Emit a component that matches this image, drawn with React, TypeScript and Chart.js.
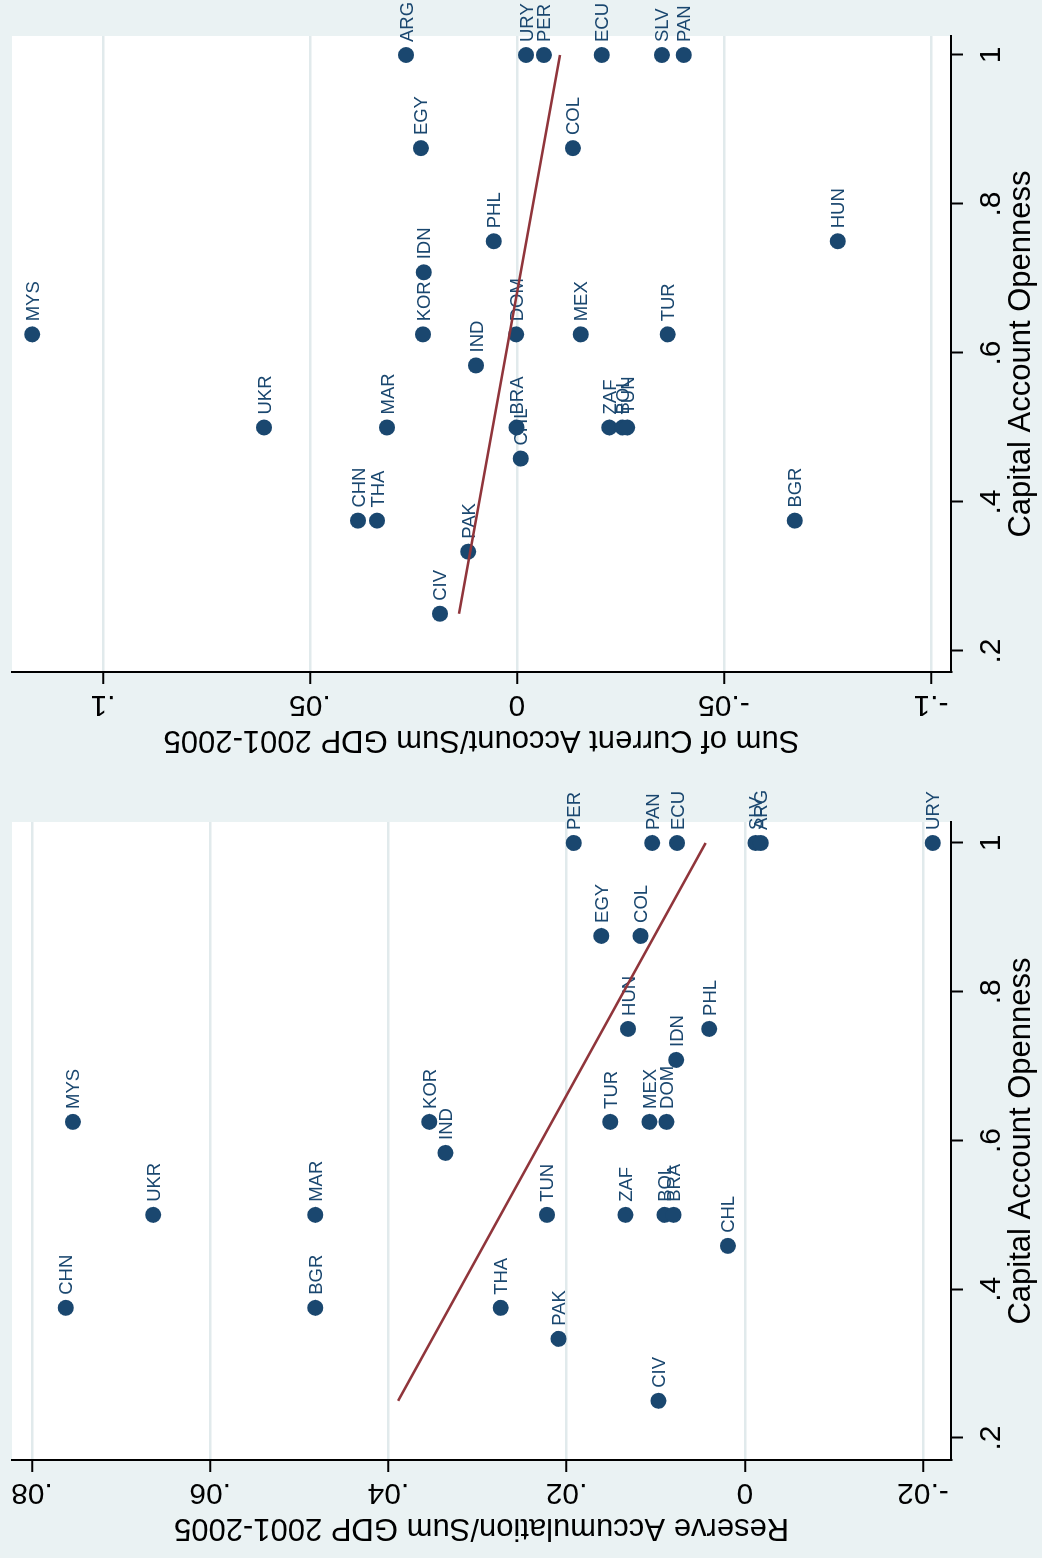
import React, { useEffect, useRef } from "react";
import { Chart, registerables } from "chart.js";

Chart.register(...registerables);

// ---------- Data ----------
const reserveCountries = ["CHN","MYS","UKR","BGR","MAR","KOR","IND","THA","PAK","TUN","PER","EGY","COL","ZAF","TUR","HUN","MEX","DOM","IDN","PHL","BOL","BRA","CHL","CIV","PAN","ECU","SLV","ARG","URY"];
const reserveOpenness = [0.375,0.625,0.5,0.375,0.5,0.625,0.5833,0.375,0.3333,0.5,1,0.875,0.875,0.5,0.625,0.75,0.625,0.625,0.7083,0.75,0.5,0.5,0.4583,0.25,1,1,1,1,1];
const reserveValues = [0.0762,0.0754,0.0664,0.0482,0.0482,0.0354,0.0336,0.0274,0.0209,0.0222,0.0192,0.0161,0.0117,0.0134,0.0151,0.0131,0.0107,0.0088,0.0077,0.0040,0.0090,0.0080,0.0019,0.0097,0.0104,0.0076,-0.0012,-0.0018,-0.0211];
const reserveFitX = [0.25, 1];
const reserveFitY = [0.0389, 0.0044];

const caCountries = ["MYS","UKR","MAR","CHN","THA","ARG","EGY","KOR","IDN","IND","PHL","DOM","PAK","CIV","BRA","CHL","MEX","TUR","ZAF","BOL","TUN","URY","PER","ECU","SLV","PAN","COL","HUN","BGR"];
const caOpenness = [0.625,0.5,0.5,0.375,0.375,1,0.875,0.625,0.7083,0.5833,0.75,0.625,0.3333,0.25,0.5,0.4583,0.625,0.625,0.5,0.5,0.5,1,1,1,1,1,0.875,0.75,0.375];
const caValues = [0.1171,0.0611,0.0314,0.0384,0.0338,0.0268,0.0232,0.0227,0.0225,0.0099,0.0056,0.0002,0.0118,0.0186,0.0001,-0.0009,-0.0154,-0.0364,-0.0223,-0.0255,-0.0266,-0.0022,-0.0065,-0.0205,-0.0350,-0.0403,-0.0135,-0.0775,-0.0671];
const caFitX = [0.25, 1];
const caFitY = [0.0140, -0.0104];

const opennessTicks = [0.2, 0.4, 0.6, 0.8, 1];
const opennessTickLabels = [".2", ".4", ".6", ".8", "1"];
const reserveTicks = [-0.02, 0, 0.02, 0.04, 0.06, 0.08];
const reserveTickLabels = ["-.02", "0", ".02", ".04", ".06", ".08"];
const caTicks = [-0.1, -0.05, 0, 0.05, 0.1];
const caTickLabels = ["-.1", "-.05", "0", ".05", ".1"];

const xTitle = "Capital Account Openness";
const reserveTitle = "Reserve Accumulation/Sum GDP 2001-2005";
const caTitle = "Sum of Current Account/Sum GDP 2001-2005";

// ---------- Styling ----------
const BG = "#EAF2F3";
const GRID = "#E1EAEC";
const NAVY = "#1A476F";
const MAROON = "#90353B";
const FONT = '"Liberation Sans", Arial, sans-serif';

type Panel = {
  countries: string[];
  openness: number[];
  values: number[];
  fitX: number[];
  fitY: number[];
  yTicks: number[];
  yTickLabels: string[];
  yTitle: string;
  xMin: number;
  xMax: number;
  yMin: number;
  yMax: number;
  axisWidth: number;
  padRight: number;
};

const reservePanel: Panel = {
  countries: reserveCountries,
  openness: reserveOpenness,
  values: reserveValues,
  fitX: reserveFitX,
  fitY: reserveFitY,
  yTicks: reserveTicks,
  yTickLabels: reserveTickLabels,
  yTitle: reserveTitle,
  xMin: 0.1704,
  xMax: 1.0282,
  yMin: -0.02314,
  yMax: 0.08224,
  axisWidth: 98,
  padRight: 43,
};

const caPanel: Panel = {
  countries: caCountries,
  openness: caOpenness,
  values: caValues,
  fitX: caFitX,
  fitY: caFitY,
  yTicks: caTicks,
  yTickLabels: caTickLabels,
  yTitle: caTitle,
  xMin: 0.1718,
  xMax: 1.0255,
  yMin: -0.10483,
  yMax: 0.12198,
  axisWidth: 107,
  padRight: 36,
};

function buildConfig(p: Panel): any {
  const bgPlugin = {
    id: "bgPlugin",
    beforeDraw(chart: any) {
      const { ctx, chartArea: a, width, height } = chart;
      ctx.save();
      ctx.fillStyle = BG;
      ctx.fillRect(0, 0, width, height);
      ctx.fillStyle = "#FFFFFF";
      ctx.fillRect(a.left, a.top, a.right - a.left, a.bottom - a.top);
      ctx.restore();
    },
  };

  const labelPlugin = {
    id: "labelPlugin",
    afterDatasetDraw(chart: any, args: any) {
      if (args.index !== 1) return;
      const { ctx } = chart;
      const meta = chart.getDatasetMeta(1);
      ctx.save();
      ctx.font = `18.5px ${FONT}`;
      ctx.fillStyle = NAVY;
      ctx.textAlign = "left";
      ctx.textBaseline = "alphabetic";
      meta.data.forEach((el: any, i: number) => {
        ctx.fillText(p.countries[i], el.x + 13, el.y + 6.5);
      });
      ctx.restore();
    },
    afterDraw(chart: any) {
      const { ctx, chartArea: a } = chart;
      const xs = chart.scales.x;
      const ys = chart.scales.y;
      ctx.save();
      ctx.fillStyle = "#000000";
      ctx.font = `30px ${FONT}`;
      // y tick labels (rotated)
      p.yTicks.forEach((v, i) => {
        const y = ys.getPixelForValue(v);
        ctx.save();
        ctx.translate(a.left - 24, y);
        ctx.rotate(-Math.PI / 2);
        ctx.textAlign = "center";
        ctx.textBaseline = "alphabetic";
        ctx.fillText(p.yTickLabels[i], 0, 0);
        ctx.restore();
      });
      // y title
      ctx.save();
      ctx.translate(a.left - 59, (a.top + a.bottom) / 2);
      ctx.rotate(-Math.PI / 2);
      ctx.textAlign = "center";
      ctx.textBaseline = "alphabetic";
      ctx.font = `31px ${FONT}`;
      ctx.fillText(p.yTitle, 0, 0);
      ctx.restore();
      // x tick labels
      ctx.textAlign = "center";
      ctx.textBaseline = "alphabetic";
      opennessTicks.forEach((v, i) => {
        const x = xs.getPixelForValue(v);
        ctx.fillText(opennessTickLabels[i], x, a.bottom + 49);
      });
      // x title
      ctx.font = `31px ${FONT}`;
      ctx.fillText(xTitle, (a.left + a.right) / 2, a.bottom + 79);
      ctx.restore();
    },
  };

  return {
    type: "scatter",
    data: {
      datasets: [
        {
          type: "line",
          data: p.fitX.map((x, i) => ({ x, y: p.fitY[i] })),
          borderColor: MAROON,
          borderWidth: 2.6,
          pointRadius: 0,
          fill: false,
          tension: 0,
        },
        {
          type: "scatter",
          data: p.openness.map((x, i) => ({ x, y: p.values[i] })),
          pointRadius: 8,
          pointBackgroundColor: NAVY,
          pointBorderColor: NAVY,
          pointBorderWidth: 0,
          backgroundColor: NAVY,
          borderColor: NAVY,
        },
      ],
    },
    options: {
      animation: false,
      responsive: false,
      devicePixelRatio: 1,
      events: [],
      layout: { padding: { left: 0, top: 12, right: p.padRight, bottom: 0 } },
      plugins: { legend: { display: false }, tooltip: { enabled: false }, title: { display: false } },
      scales: {
        x: {
          type: "linear",
          bounds: "data",
          min: p.xMin,
          max: p.xMax,
          afterBuildTicks: (s: any) => {
            s.ticks = opennessTicks.map((v) => ({ value: v }));
          },
          afterFit: (s: any) => {
            s.height = 91;
          },
          ticks: { display: false },
          grid: { drawOnChartArea: false, drawTicks: true, tickLength: 12, tickColor: "#000", tickWidth: 2 },
          border: { display: true, color: "#000", width: 2 },
        },
        y: {
          type: "linear",
          bounds: "data",
          min: p.yMin,
          max: p.yMax,
          afterBuildTicks: (s: any) => {
            s.ticks = p.yTicks.map((v) => ({ value: v }));
          },
          afterFit: (s: any) => {
            s.width = p.axisWidth;
          },
          ticks: { display: false },
          grid: { color: GRID, lineWidth: 2.5, drawTicks: true, tickLength: 12, tickColor: "#000", tickWidth: 2 },
          border: { display: true, color: "#000", width: 2 },
        },
      },
    },
    plugins: [bgPlugin, labelPlugin],
  };
}

export default function App() {
  const leftRef = useRef<HTMLCanvasElement>(null);
  const rightRef = useRef<HTMLCanvasElement>(null);

  useEffect(() => {
    const c1 = new Chart(leftRef.current as HTMLCanvasElement, buildConfig(reservePanel));
    const c2 = new Chart(rightRef.current as HTMLCanvasElement, buildConfig(caPanel));
    return () => {
      c1.destroy();
      c2.destroy();
    };
  }, []);

  return (
    <div
      style={{
        position: "fixed",
        left: 0,
        top: 0,
        width: 1042,
        height: 1558,
        overflow: "hidden",
        background: BG,
      }}
    >
      <div
        style={{
          position: "absolute",
          left: 0,
          top: 0,
          width: 1558,
          height: 1042,
          transformOrigin: "0 0",
          transform: "translate(0px, 1558px) rotate(-90deg)",
        }}
      >
        <canvas
          ref={leftRef}
          width={779}
          height={1042}
          style={{ position: "absolute", left: 0, top: 0, width: 779, height: 1042 }}
        />
        <canvas
          ref={rightRef}
          width={779}
          height={1042}
          style={{ position: "absolute", left: 779, top: 0, width: 779, height: 1042 }}
        />
      </div>
    </div>
  );
}
